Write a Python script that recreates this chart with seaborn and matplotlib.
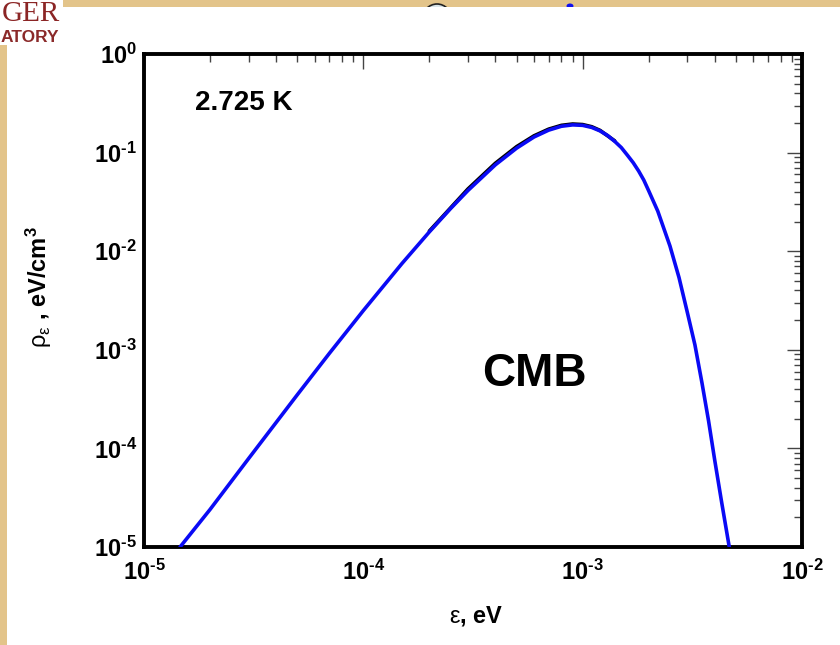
import numpy as np
import pandas as pd
import matplotlib
matplotlib.use("Agg")
import matplotlib.pyplot as plt
import matplotlib.ticker as mticker
from matplotlib.patches import Rectangle, Ellipse
import seaborn as sns

# Photon energy (eV) and spectral energy density of the 2.725 K background (eV/cm^3)
energy_ev = [1.46e-5, 2e-5, 3e-5, 5e-5, 7e-5, 1e-4, 1.5e-4, 2e-4, 2.5e-4, 3e-4, 4e-4,
             5e-4, 6e-4, 7e-4, 8e-4, 9e-4, 1e-3, 1.1e-3, 1.2e-3, 1.3e-3, 1.4e-3, 1.5e-3,
             1.6e-3, 1.7e-3, 1.8e-3, 1.9e-3, 2e-3, 2.2e-3, 2.5e-3, 2.75e-3, 3e-3, 3.25e-3,
             3.5e-3, 3.75e-3, 4e-3, 4.3e-3, 4.66e-3]
rho_blue = [1.0e-5, 2.4e-5, 7.9e-5, 3.5e-4, 9.2e-4, 2.5e-3, 7.5e-3, 0.0157, 0.0271, 0.0413, 0.0752,
            0.111, 0.144, 0.169, 0.185, 0.191, 0.189, 0.180, 0.166, 0.149, 0.130, 0.1125,
            0.094, 0.079, 0.065, 0.0526, 0.041, 0.0255, 0.0113, 5.4e-3, 2.4e-3, 1.12e-3,
            4.6e-4, 1.9e-4, 7.6e-5, 2.86e-5, 1.0e-5]

# Reference curve underneath, visible only around the maximum
energy_black = [2e-4, 3e-4, 4e-4, 5e-4, 6e-4, 7e-4, 8e-4, 9e-4, 1e-3, 1.1e-3, 1.2e-3, 1.4e-3]
rho_black = [0.0160, 0.0428, 0.0780, 0.1150, 0.1480, 0.1730, 0.1890, 0.1950, 0.1925, 0.1830, 0.1680, 0.1315]

HY = "\u2010"
x_ticks = [1e-5, 1e-4, 1e-3, 1e-2]
x_tick_labels = [r"$\mathbf{10^{" + HY + "5}}$", r"$\mathbf{10^{" + HY + "4}}$",
                 r"$\mathbf{10^{" + HY + "3}}$", r"$\mathbf{10^{" + HY + "2}}$"]
y_ticks = [1e-5, 1e-4, 1e-3, 1e-2, 1e-1, 1e0]
y_tick_labels = [r"$\mathbf{10^{" + HY + "5}}$", r"$\mathbf{10^{" + HY + "4}}$",
                 r"$\mathbf{10^{" + HY + "3}}$", r"$\mathbf{10^{" + HY + "2}}$",
                 r"$\mathbf{10^{" + HY + "1}}$", r"$\mathbf{10^{0}}$"]

sns.set_theme(style="white")
plt.rcParams["font.family"] = ["Liberation Sans", "DejaVu Sans"]
plt.rcParams["text.color"] = "black"
plt.rcParams["axes.labelcolor"] = "black"
plt.rcParams["mathtext.fontset"] = "custom"
plt.rcParams["mathtext.rm"] = "Liberation Sans"
plt.rcParams["mathtext.bf"] = "Liberation Sans:bold"
plt.rcParams["mathtext.it"] = "Liberation Sans:italic"

fig = plt.figure(figsize=(8.4, 6.45), dpi=100)
fig.patch.set_facecolor("white")

W, H = 840.0, 645.0
tan = "#E3C48A"
# parchment border of the slide, with a clipped ornament peeking over the panel
fig.add_artist(Rectangle((63 / W, 1 - 7 / H), 1, 7 / H, transform=fig.transFigure,
                         facecolor=tan, edgecolor="none", zorder=0.1))
fig.add_artist(Ellipse((437 / W, 1 - 20 / H), 30 / W, 32 / H, transform=fig.transFigure,
                       facecolor="#D8E4E8", edgecolor="#222222", lw=1.2, zorder=0.2))
fig.add_artist(Ellipse((570 / W, 1 - 6 / H), 7 / W, 5 / H, transform=fig.transFigure,
                       facecolor="#1010EE", edgecolor="none", zorder=0.2))
fig.add_artist(Rectangle((0, 0), 1, 1 - 7 / H, transform=fig.transFigure,
                         facecolor="white", edgecolor="none", zorder=0.5))
fig.add_artist(Rectangle((0, 0), 7 / W, 1 - 45 / H, transform=fig.transFigure,
                         facecolor=tan, edgecolor="none", zorder=0.6))

fig.text(1.5 / W, 1 - 1 / H, "GER", ha="left", va="top", color="#8B2525",
         fontsize=21, family=["Liberation Serif", "DejaVu Serif"], zorder=1)
fig.text(1.0 / W, 1 - 29.5 / H, "ATORY", ha="left", va="top", color="#8B2A2A",
         fontsize=12.5, fontweight="bold", zorder=1)

ax = fig.add_axes([144 / W, 1 - 547 / H, (802 - 144) / W, (547 - 54) / H])
ax.set_zorder(2)
ax.set_facecolor("white")

df_black = pd.DataFrame({"energy": energy_black, "rho": rho_black})
df_blue = pd.DataFrame({"energy": energy_ev, "rho": rho_blue})
sns.lineplot(data=df_black, x="energy", y="rho", ax=ax, color="black", lw=2.6,
             estimator=None, sort=False, zorder=3)
sns.lineplot(data=df_blue, x="energy", y="rho", ax=ax, color="#0A0AF5", lw=2.6,
             estimator=None, sort=False, zorder=4)

ax.set_xscale("log")
ax.set_yscale("log")
ax.set_xlim(1e-5, 1e-2)
ax.set_ylim(1e-5, 1e0)

ax.xaxis.set_major_locator(mticker.FixedLocator(x_ticks))
ax.xaxis.set_major_formatter(mticker.FixedFormatter(x_tick_labels))
ax.yaxis.set_major_locator(mticker.FixedLocator(y_ticks))
ax.yaxis.set_major_formatter(mticker.FixedFormatter(y_tick_labels))
ax.xaxis.set_minor_locator(mticker.LogLocator(base=10, subs=np.arange(2, 10), numticks=20))
ax.yaxis.set_minor_locator(mticker.LogLocator(base=10, subs=np.arange(2, 10), numticks=20))
ax.xaxis.set_minor_formatter(mticker.NullFormatter())
ax.yaxis.set_minor_formatter(mticker.NullFormatter())

ax.tick_params(which="both", direction="in", top=True, right=True, color="#444444",
               width=1.0, labelsize=17, labelcolor="black")
ax.tick_params(which="major", length=11)
ax.tick_params(which="minor", length=5.5)
ax.tick_params(axis="x", which="major", pad=9)
ax.tick_params(axis="y", which="major", pad=5)

for side in ["left", "right", "top", "bottom"]:
    ax.spines[side].set_visible(True)
    ax.spines[side].set_color("black")
    ax.spines[side].set_linewidth(2.8)

ax.set_xlabel(r"$\mathrm{\varepsilon}$" + ", eV", fontsize=17, fontweight="bold")
ax.set_ylabel(r"$\mathrm{\rho_{\varepsilon}}$" + " , eV/cm" + r"$^{\mathbf{3}}$", fontsize=17,
              fontweight="bold")
ax.xaxis.set_label_coords(0.505, -0.115)
ax.yaxis.set_label_coords(-0.137, 0.527)

ax.text(0.0775, 0.90, "2.725 K", transform=ax.transAxes, fontsize=20,
        fontweight="bold", ha="left", va="center")
ax.text(0.593, 0.351, "CMB", transform=ax.transAxes, fontsize=33,
        fontweight="bold", ha="center", va="center")

fig.savefig("out.png", dpi=100)
